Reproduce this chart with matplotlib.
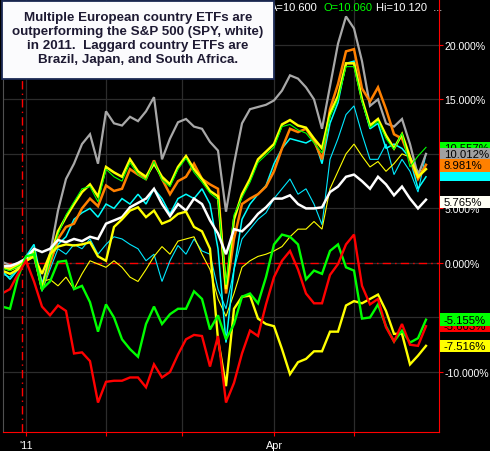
import numpy as np
import matplotlib
matplotlib.use('Agg')
import matplotlib.pyplot as plt
import matplotlib.transforms as mtransforms
from matplotlib.patches import Rectangle, FancyBboxPatch

plt.rcParams['font.family'] = ['Liberation Sans', 'DejaVu Sans']

# trading-day index counted from 3 Jan 2011, every second session
day = np.arange(-6, 101, 2)

# % change since 31 Dec 2010
gray = [0.1, -0.2, -0.1, 0.2, 0.6, -2.2, 0.8, 4.8, 7.7, 9.1, 10.9, 11.8, 9.1, 13.9, 12.8, 12.6, 13.4, 13.0,
        13.9, 15.2, 9.5, 11.4, 12.9, 13.2, 12.5, 12.3, 11.1, 10.3, 4.7, 9.1, 12.8, 14.1, 14.3, 14.5, 14.9, 15.8,
        17.2, 16.9, 16.1, 15.0, 12.3, 16.2, 20.1, 22.6, 21.5, 18.5, 14.4, 15.0, 12.8, 12.5, 13.2, 10.9, 8.0, 10.0]
orange = [-0.2, -0.4, -0.1, 0.2, 0.8, -2.4, -0.1, 2.2, 3.3, 3.6, 5.0, 5.9, 5.2, 7.1, 6.6, 6.8, 8.6, 8.1,
          7.7, 9.4, 7.7, 6.3, 7.5, 7.9, 9.1, 7.7, 7.2, 6.8, -2.8, 2.2, 5.4, 5.9, 6.3, 7.0, 8.4, 10.5,
          12.3, 12.0, 12.3, 11.2, 9.5, 14.1, 16.4, 19.4, 19.6, 16.0, 14.8, 16.1, 14.1, 11.8, 11.4, 9.5, 7.7, 9.0]
yellow_up = [-0.4, -0.6, -0.2, 0.2, 1.1, -2.4, 0.4, 2.9, 4.2, 5.4, 6.5, 7.2, 6.1, 8.8, 8.3, 7.9, 9.5, 8.4,
             7.9, 9.1, 7.9, 7.2, 8.8, 9.8, 8.6, 7.7, 6.6, 6.1, -2.4, 4.0, 6.3, 7.7, 9.5, 10.2, 10.9, 12.7,
             13.1, 12.6, 12.4, 11.4, 10.5, 13.7, 15.3, 18.3, 18.3, 15.0, 12.6, 13.2, 11.7, 10.5, 11.8, 9.7, 7.9, 8.6]
green_up = [-0.5, -0.7, -0.3, 0.1, 1.3, -2.6, 0.2, 2.6, 4.4, 5.6, 6.8, 7.0, 5.6, 8.6, 7.9, 7.5, 9.2, 8.1,
            7.6, 9.3, 7.6, 7.0, 8.6, 9.6, 8.3, 7.4, 6.4, 5.8, -2.0, 4.4, 6.0, 7.4, 9.2, 9.9, 10.6, 12.5,
            12.7, 12.2, 11.9, 11.0, 10.1, 13.4, 15.0, 18.0, 18.0, 14.8, 12.4, 13.0, 11.4, 10.4, 11.9, 8.8, 9.8, 10.6]
cyan_a = [-0.7, -1.5, -0.6, 0.6, 1.7, -1.9, 0.2, 1.7, 2.4, 4.0, 4.6, 5.0, 4.2, 5.4, 5.0, 5.9, 5.4, 6.3,
          5.4, 6.8, 5.9, 4.5, 5.9, 6.3, 5.9, 6.8, 5.4, 1.3, -7.3, -0.6, 4.0, 5.4, 6.3, 7.1, 9.1, 10.5,
          11.4, 11.2, 11.0, 11.4, 9.1, 12.8, 14.7, 18.3, 18.5, 15.0, 12.3, 12.8, 10.5, 10.9, 10.5, 9.6, 6.8, 7.9]
cyan_b = [-1.0, -1.3, -0.4, 0.6, 1.3, -2.6, -0.6, 1.3, 0.8, 1.7, 1.3, 2.2, 0.8, 1.7, 2.4, 2.2, 1.7, 1.3,
          0.2, 0.8, -1.7, 0.2, 1.6, 0.8, 2.2, 1.1, 0.8, -2.4, -4.2, -0.6, 2.2, 3.1, 4.0, 4.6, 5.9, 6.8,
          7.7, 6.3, 6.8, 5.4, 3.5, 9.5, 11.4, 13.6, 14.4, 11.8, 9.5, 9.5, 10.9, 8.1, 9.5, 8.4, 6.5, 10.0]
yellow_thin = [-0.4, -0.7, -0.4, 0.2, 0.8, -1.7, -1.5, -2.1, -1.3, -2.4, -1.0, 0.2, -0.1, -0.4, 0.2, -0.4, -1.3, -1.7,
               -0.6, 0.6, 1.5, 0.8, 2.0, 2.2, 2.4, 0.8, -0.6, -3.3, -4.9, -2.8, -0.4, 0.2, 0.6, 0.8, 1.1, 1.5,
               2.4, 3.1, 3.1, 3.8, 3.1, 6.8, 8.4, 10.0, 10.9, 9.8, 8.8, 9.3, 8.4, 9.1, 10.0, 9.7, 8.4, 8.6]
spy = [-0.3, -0.3, 0.0, 0.4, 1.3, 1.0, 1.3, 2.1, 1.9, 2.2, 2.0, 2.4, 2.2, 3.6, 3.9, 4.2, 5.1, 5.5,
       5.9, 6.8, 5.4, 4.3, 5.4, 4.8, 5.9, 5.4, 3.9, 2.7, 0.8, 3.1, 2.9, 3.6, 4.5, 5.1, 5.9, 5.9,
       6.2, 5.4, 5.0, 5.0, 5.1, 6.5, 7.0, 7.9, 8.1, 7.5, 6.8, 7.9, 7.2, 6.2, 7.0, 5.9, 5.0, 5.8]
green_low = [-4.0, -4.2, -1.3, 0.6, 0.8, -2.4, -1.7, 0.1, 0.2, -2.4, -2.1, -3.6, -6.3, -3.8, -5.0, -7.0, -7.9, -8.6,
             -5.6, -4.0, -5.6, -4.7, -4.2, -4.2, -2.6, -3.3, -6.1, -4.8, -7.0, -5.6, -3.1, -2.8, -3.7, -1.3, 1.7, 2.6,
             2.4, 1.7, -1.5, -0.7, -1.0, 1.1, 1.7, -0.4, -0.7, -5.1, -5.0, -3.8, -5.8, -7.2, -6.2, -7.3, -6.9, -5.2]
red = [-2.8, -2.4, -1.0, 0.2, -1.7, -4.0, -4.8, -3.9, -4.4, -8.3, -8.2, -9.0, -12.8, -10.9, -10.8, -10.8, -10.5, -10.5,
       -11.4, -9.3, -10.5, -10.0, -8.4, -7.0, -6.6, -6.7, -9.5, -6.7, -12.8, -11.0, -8.3, -6.2, -6.7, -3.8, -1.3, 0.2,
       1.1, -0.6, -2.8, -3.7, -3.7, -1.1, -0.1, 1.7, 2.6, -2.1, -3.8, -3.3, -5.9, -7.2, -5.6, -7.5, -7.6, -5.8]
yellow_low = [-0.7, -1.0, -0.6, 0.2, 0.6, -1.0, 0.8, 1.5, 1.7, 1.6, 1.7, 1.9, 0.6, 0.2, 3.3, 4.0, 4.8, 5.1,
              4.2, 4.8, 3.6, 3.9, 4.5, 4.7, 3.3, 2.9, 1.3, -7.0, -11.3, -4.2, -3.1, -3.0, -5.1, -5.6, -5.8, -7.9,
              -10.2, -9.1, -8.8, -8.1, -8.1, -6.3, -6.3, -3.9, -3.5, -3.7, -3.3, -2.9, -4.4, -6.5, -6.5, -9.3, -8.5, -7.6]

yticks = [20, 15, 10, 5, 0, -5, -10]
xticks = [0, 20, 39, 62, 82]
xticklabels = ["'11", '', '', 'Apr', '']

# last-value boxes on the right axis, bottom of the stack first: (centre, face colour, text)
tags = [
    (10.55, '#00ff00', '10.557%'),
    (10.0, '#a0a0a0', '10.012%'),
    (8.05, '#00ffff', ''),
    (8.95, '#ff8000', '8.981%'),
    (5.6, '#fffff4', '5.765%'),
    (-5.8, '#ff0000', '-5.603%'),
    (-5.2, '#00ff00', '-5.155%'),
    (-7.6, '#ffff00', '-7.516%'),
]

W, H = 490, 452
fig = plt.figure(figsize=(W / 100, H / 100), dpi=100, facecolor='black')
ax = fig.add_axes([3 / W, 19 / H, 436 / W, 433 / H], facecolor='black')

ax.set_xlim(-5.75, 103.25)
ax.set_ylim(-15.5, 24.2)

ax.grid(True, color='#2c2c2c', lw=0.9)
ax.axhline(0, color='#ff0000', lw=1.0, ls=(0, (6, 3, 1, 3)), zorder=1.7)
ax.axvline(-1, color='#ff0000', lw=1.0, ls=(0, (6, 3, 1, 3)), zorder=1.7)

series = [
    (cyan_b, '#00e8ff', 0.8),
    (yellow_thin, '#ffff00', 0.8),
    (gray, '#a8a8a8', 1.6),
    (cyan_a, '#00ffff', 1.1),
    (orange, '#ff8000', 1.8),
    (yellow_up, '#ffff00', 1.8),
    (green_up, '#00ff00', 0.8),
    (spy, '#ffffff', 1.8),
    (yellow_low, '#ffff00', 1.7),
    (green_low, '#00ff00', 1.7),
    (red, '#ff0000', 1.7),
]
for vals, col, lw in series:
    ax.plot(day, vals, color=col, lw=lw, solid_joinstyle='miter', zorder=2)

ax.yaxis.tick_right()
ax.set_yticks(yticks)
ax.set_yticklabels([f'{v:.3f}%' for v in yticks])
ax.set_xticks(xticks)
ax.set_xticklabels(xticklabels)
ax.tick_params(axis='y', colors='#ff0000', labelcolor='white', length=3, pad=1, labelsize=7.6)
ax.tick_params(axis='x', colors='#ff0000', labelcolor='white', length=3, pad=3, labelsize=7.8)
ax.spines['top'].set_visible(False)
ax.spines['bottom'].set_color('#ff0000')
ax.spines['right'].set_color('#ff0000')
ax.spines['left'].set_color('#505050')

trans = mtransforms.blended_transform_factory(ax.transAxes, ax.transData)
bx0 = 1.0 + 1 / 436
bw = 50 / 436
bh = 1.15
for i, (yc, col, txt) in enumerate(tags):
    ax.add_patch(Rectangle((bx0, yc - bh / 2), bw, bh, transform=trans, facecolor=col,
                           edgecolor='none', clip_on=False, zorder=5 + 2 * i))
    if txt:
        ax.text(bx0 + 4 / 436, yc, txt, transform=trans, color='black', fontsize=8.2,
                va='center', ha='left', clip_on=False, zorder=6 + 2 * i)

# header readout, partly behind the note box
fig.text(270 / W, 1 - 8 / H, 'A=10.600', color='white', fontsize=8, va='center', ha='left', zorder=1)
fig.text(323 / W, 1 - 8 / H, 'O=10.060', color='#00ff00', fontsize=8, va='center', ha='left', zorder=1)
fig.text(376 / W, 1 - 8 / H, 'Hi=10.120  ...', color='white', fontsize=8, va='center', ha='left', zorder=1)

note = FancyBboxPatch((2 / W, 1 - 80 / H), 272 / W, 78 / H, boxstyle='square,pad=0',
                      transform=fig.transFigure, facecolor='#fbfbfd', edgecolor='#1c2a55',
                      lw=1.3, zorder=10)
fig.patches.append(note)
fig.text(138 / W, 1 - 39 / H,
         'Multiple European country ETFs are\noutperforming the S&P 500 (SPY, white)\n'
         'in 2011.  Laggard country ETFs are\nBrazil, Japan, and South Africa.',
         color='#1e1a33', fontsize=9.6, fontweight='bold', ha='center', va='center',
         linespacing=1.24, zorder=11)

fig.savefig('out.png', dpi=100, facecolor='black')
